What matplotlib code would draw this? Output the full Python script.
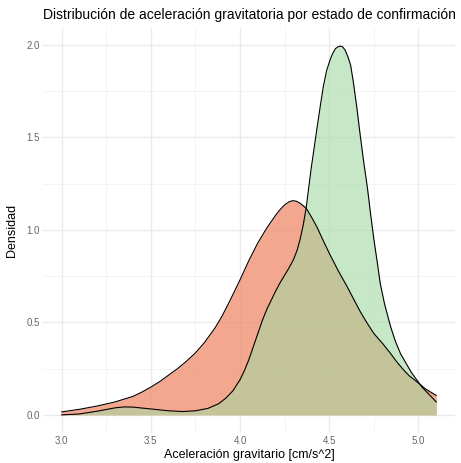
import numpy as np
import matplotlib
matplotlib.use("Agg")
import matplotlib.pyplot as plt
from matplotlib.ticker import MultipleLocator

plt.rcParams["font.family"] = ["Liberation Sans", "DejaVu Sans"]

# densidad estimada (no confirmado / confirmado)
x_no = [3.0, 3.1, 3.2, 3.3, 3.4, 3.45, 3.5, 3.55, 3.6, 3.65, 3.7, 3.75, 3.8,
        3.86, 3.9, 3.95, 4.0, 4.05, 4.1, 4.15, 4.2, 4.225, 4.25, 4.275, 4.296,
        4.315, 4.335, 4.355, 4.371, 4.4, 4.43, 4.465, 4.5, 4.55, 4.6, 4.64,
        4.674, 4.71, 4.75, 4.8, 4.843, 4.88, 4.917, 4.95, 4.99, 5.04, 5.1]
y_no = [0.016, 0.03, 0.048, 0.07, 0.10, 0.123, 0.15, 0.18, 0.215, 0.25, 0.29,
        0.335, 0.39, 0.47, 0.535, 0.63, 0.73, 0.835, 0.93, 1.01, 1.08, 1.11,
        1.135, 1.152, 1.158, 1.155, 1.145, 1.13, 1.117, 1.07, 1.018, 0.945,
        0.874, 0.78, 0.694, 0.62, 0.558, 0.50, 0.44, 0.385, 0.333, 0.285,
        0.243, 0.21, 0.18, 0.14, 0.105]

x_si = [3.0, 3.1, 3.2, 3.3, 3.35, 3.4, 3.5, 3.6, 3.68, 3.75, 3.82, 3.88,
        3.92, 3.96, 4.0, 4.025, 4.05, 4.075, 4.1, 4.125, 4.15, 4.175, 4.2,
        4.225, 4.25, 4.275, 4.3, 4.32, 4.337, 4.355, 4.371, 4.384, 4.4, 4.415,
        4.43, 4.45, 4.466, 4.485, 4.505, 4.52, 4.535, 4.55, 4.562, 4.575,
        4.59, 4.605, 4.62, 4.635, 4.655, 4.67, 4.69, 4.715, 4.73, 4.75, 4.77,
        4.786, 4.81, 4.843, 4.87, 4.9, 4.93, 4.96, 4.99, 5.02, 5.06, 5.1]
y_si = [0.0, 0.005, 0.02, 0.038, 0.043, 0.042, 0.032, 0.022, 0.018, 0.022,
        0.035, 0.06, 0.09, 0.13, 0.19, 0.24, 0.30, 0.37, 0.44, 0.51, 0.57,
        0.62, 0.67, 0.715, 0.755, 0.795, 0.84, 0.89, 0.95, 1.03, 1.12, 1.22,
        1.34, 1.44, 1.54, 1.67, 1.77, 1.86, 1.92, 1.955, 1.98, 1.99, 1.993,
        1.99, 1.97, 1.935, 1.89, 1.80, 1.66, 1.54, 1.39, 1.22, 1.10, 0.95,
        0.82, 0.71, 0.60, 0.48, 0.40, 0.33, 0.28, 0.23, 0.19, 0.15, 0.11, 0.07]

fig = plt.figure(figsize=(4.61, 4.63), dpi=100)
ax = fig.add_axes([0.093, 0.064, 0.894, 0.875])

ax.fill_between(x_no, y_no, 0, color="#EF8A6A", alpha=0.75, lw=0)
ax.plot(x_no, y_no, color="black", lw=0.8)
ax.fill_between(x_si, y_si, 0, color="#A3D9A3", alpha=0.6, lw=0)
ax.plot(x_si, y_si, color="black", lw=0.8)

ax.set_xlim(2.895, 5.205)
ax.set_ylim(-0.1, 2.09)
ax.xaxis.set_minor_locator(MultipleLocator(0.25))
ax.yaxis.set_minor_locator(MultipleLocator(0.25))
ax.set_xticks([3.0, 3.5, 4.0, 4.5, 5.0])
ax.set_xticklabels(["3.0", "3.5", "4.0", "4.5", "5.0"])
ax.set_yticks([0.0, 0.5, 1.0, 1.5, 2.0])
ax.set_yticklabels(["0.0", "0.5", "1.0", "1.5", "2.0"])

ax.grid(which="major", color="#EBEBEB", lw=1.0)
ax.grid(which="minor", color="#F2F2F2", lw=0.6)
ax.set_axisbelow(True)
for s in ax.spines.values():
    s.set_visible(False)
ax.tick_params(which="both", length=0, labelsize=7, labelcolor="#666666", pad=2)

ax.set_xlabel("Aceleración gravitario [cm/s^2]", fontsize=9, labelpad=2)
ax.set_ylabel("Densidad", fontsize=9, labelpad=6)
ax.set_title("Distribución de aceleración gravitatoria por estado de confirmación",
             fontsize=10, loc="left", pad=7)

fig.savefig("out.png", dpi=100)
